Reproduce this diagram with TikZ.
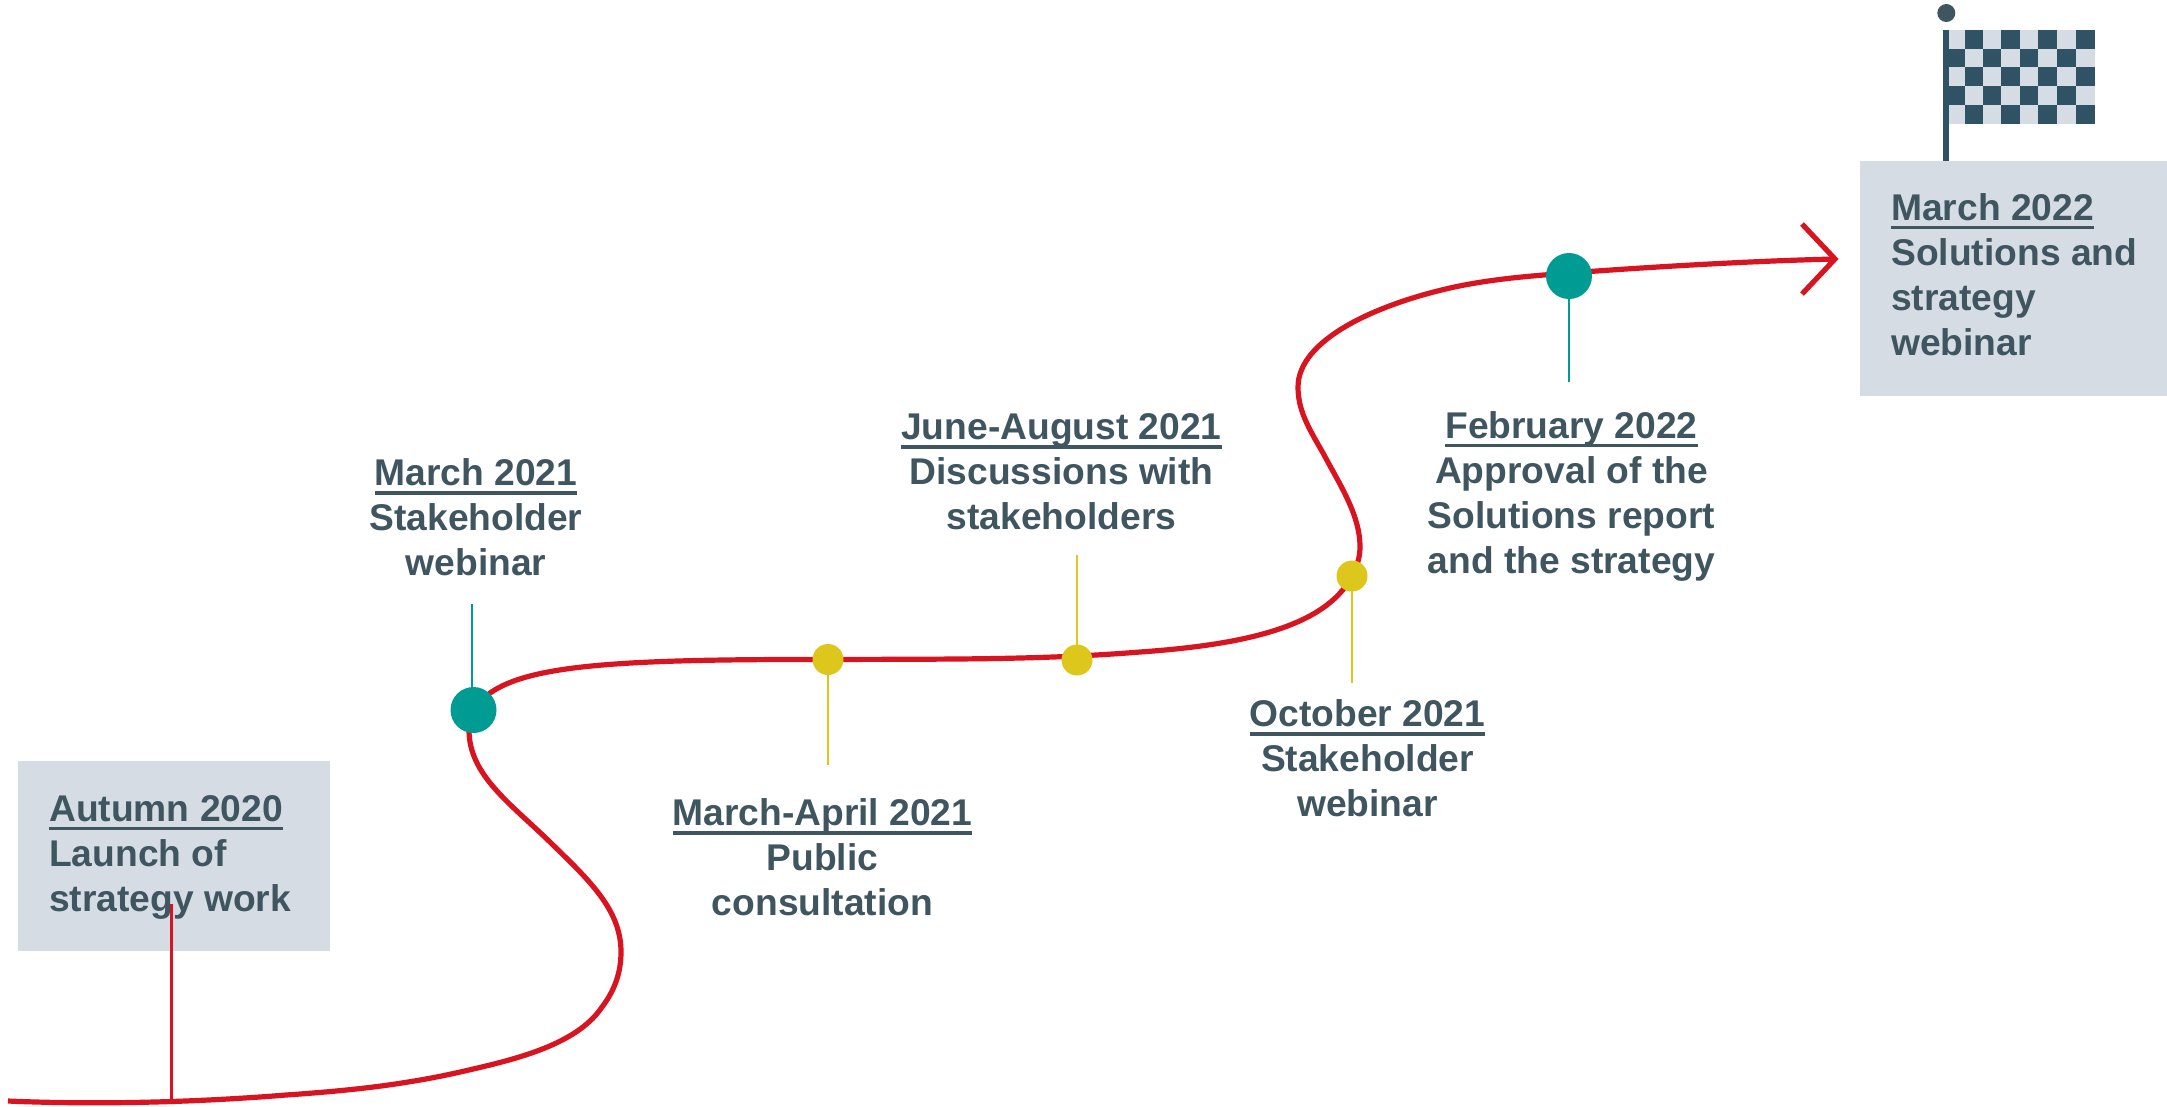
\documentclass[tikz,border=0pt]{standalone}
\usepackage{fontspec}
\setmainfont{Liberation Sans}
\definecolor{txt}{HTML}{3F5660}
\definecolor{boxfill}{HTML}{D5DCE3}
\definecolor{flagdark}{HTML}{2F5364}
\definecolor{rd}{HTML}{D7141F}
\definecolor{tl}{HTML}{009C94}
\definecolor{yl}{HTML}{DEC71D}
\newcommand{\ul}[1]{\setbox0\hbox{#1}\rlap{\vrule width \wd0 height -5.5pt depth 9.2pt}\box0}
\tikzset{
  x=1pt,y=-1pt,
  lbl/.style={text=txt,font=\fontsize{37.2pt}{45pt}\bfseries\selectfont,inner sep=0pt,align=center},
  lbll/.style={text=txt,font=\fontsize{37.2pt}{45pt}\bfseries\selectfont,inner sep=0pt,align=left,anchor=north west},
  grey/.style={fill=boxfill,draw=none,inner sep=0pt,anchor=north west},
  road/.style={draw=rd,line width=5.2pt},
  dotT/.style={circle,fill=tl,draw=none,inner sep=0pt,minimum size=46pt},
  dotY/.style={circle,fill=yl,draw=none,inner sep=0pt,minimum size=31pt},
  stemT/.style={draw=tl,line width=2.6pt},
  stemY/.style={draw=yl,line width=2.6pt},
}
\begin{document}
\begin{tikzpicture}
\useasboundingbox (0,0) rectangle (2167,1106);
% boxes
\node[grey,minimum width=312pt,minimum height=190pt] (box1) at (18,761) {};
\node[grey,minimum width=307pt,minimum height=235pt] (box2) at (1860,161) {};
% flag
\fill[boxfill] (1949,30) rectangle (2095,124);
\foreach \xa/\xb in {1965/1983,2001/2020,2038/2057,2076/2095}{
  \fill[flagdark] (\xa,30) rectangle (\xb,49);
  \fill[flagdark] (\xa,67) rectangle (\xb,86);
  \fill[flagdark] (\xa,105) rectangle (\xb,124);
}
\foreach \xa/\xb in {1949/1965,1983/2001,2020/2038,2057/2076}{
  \fill[flagdark] (\xa,49) rectangle (\xb,67);
  \fill[flagdark] (\xa,86) rectangle (\xb,105);
}
\fill[flagdark] (1943.3,30) rectangle (1949,161);
\node[circle,fill=txt,inner sep=0pt,minimum size=18pt] (ball) at (1946.3,13) {};
% text
\node[lbll] (t1) at (49,795) {\ul{Autumn 2020}\\Launch of\\strategy work};
\node[lbll] (t2) at (1891,193) {\ul{March 2022}\\Solutions and\\strategy\\webinar};
\node[lbl] (t3) at (476,517.5) {\ul{March 2021}\\Stakeholder\\webinar};
\node[lbl] (t4) at (822.5,857) {\ul{March-April 2021}\\Public\\consultation};
\node[lbl] (t5) at (1061.5,472) {\ul{June-August 2021}\\Discussions with\\stakeholders};
\node[lbl] (t6) at (1367.5,758) {\ul{October 2021}\\Stakeholder\\webinar};
\node[lbl] (t7) at (1571.5,496) {\ul{February 2022}\\Approval of the\\Solutions report\\and the strategy};
% stems
\coordinate (s0) at (171.5,904); \coordinate (e0) at (171.5,1100);
\coordinate (s1) at (472,604); \coordinate (d1) at (473.5,710);
\coordinate (s2) at (828,765); \coordinate (d2) at (828,659.5);
\coordinate (s3) at (1077,555); \coordinate (d3) at (1077,660);
\coordinate (s4) at (1352,683); \coordinate (d4) at (1352,576);
\coordinate (s5) at (1569,382); \coordinate (d5) at (1569,276);
\draw[draw=rd,line width=2.6pt] (s0) -- (e0);
\draw[stemT] (s1) -- (472,710);
\draw[stemY] (s2) -- (d2);
\draw[stemY] (s3) -- (d3);
\draw[stemY] (s4) -- (d4);
\draw[stemT] (s5) -- (d5);
% road
\coordinate (p0) at (8,1101);
\coordinate (tip) at (1835,259);
\draw[road] (p0) .. controls (100,1105) and (200,1102) .. (286,1095)
 .. controls (330,1092) and (372,1088) .. (408,1082)
 .. controls (440,1077) and (465,1071) .. (490,1065)
 .. controls (530,1055) and (580,1040) .. (602,1007)
 .. controls (615,990) and (621,972) .. (621,952)
 .. controls (621,910) and (590,881) .. (551,843)
 .. controls (510,803) and (469,775) .. (469,730)
 -- (d1) -- (490,693)
 .. controls (530,665) and (620,659) .. (d2)
 .. controls (950,659) and (1040,660) .. (1140,652)
 .. controls (1240,645) and (1325,628) .. (d4)
 .. controls (1358,565) and (1360,555) .. (1360,547)
 .. controls (1360,515) and (1340,485) .. (1323,453)
 .. controls (1308,427) and (1298,410) .. (1298,387)
 .. controls (1298,340) and (1375,305) .. (1450,288)
 .. controls (1490,279) and (1530,276) .. (1569,273)
 .. controls (1650,267) and (1750,261) .. (tip);
\draw[road,miter limit=4] (1802,224) -- (tip) -- (1802,294);
\node[dotT] (n1) at (d1) {};
\node[dotY] (n2) at (d2) {};
\node[dotY] (n3) at (d3) {};
\node[dotY] (n4) at (d4) {};
\node[dotT] (n5) at (d5) {};
\end{tikzpicture}
\end{document}
